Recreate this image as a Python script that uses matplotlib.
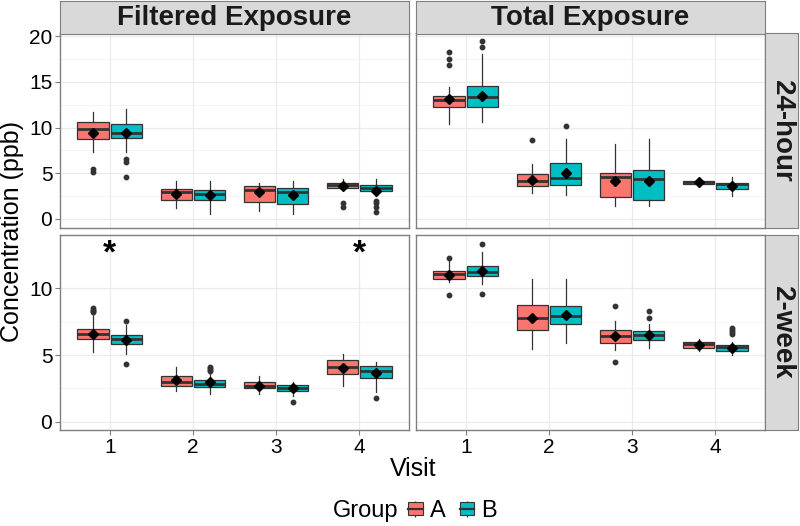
import numpy as np
import matplotlib.pyplot as plt
from matplotlib.patches import Patch
from matplotlib.lines import Line2D

plt.rcParams['font.family'] = ['Liberation Sans', 'DejaVu Sans']

# categories
visits = [1, 2, 3, 4]
groups = ['A', 'B']
exposures = ['Filtered Exposure', 'Total Exposure']
durations = ['24-hour', '2-week']
colors = {'A': '#F8766D', 'B': '#00BFC4'}

# box stats per panel, columns: A1, B1, A2, B2, A3, B3, A4, B4
# rows: whisker low, q1, median, q3, whisker high, mean
filt_24h = np.array([
    [7.3, 7.3, 1.2, 0.55, 0.9, 0.5, 3.2, 2.5],
    [8.75, 8.9, 2.1, 2.05, 1.9, 1.6, 3.35, 3.0],
    [9.86, 9.4, 2.9, 2.7, 3.2, 2.9, 3.75, 3.4],
    [10.6, 10.4, 3.3, 3.2, 3.6, 3.35, 3.9, 3.7],
    [11.7, 12.0, 4.2, 4.2, 3.9, 4.2, 4.4, 4.4],
    [9.4, 9.4, 2.7, 2.6, 2.9, 2.6, 3.6, 3.1],
])
filt_24h_out = [[5.5, 5.1], [6.6, 6.2, 4.6], [], [], [], [], [1.7, 1.3], [2.0, 1.7, 1.35, 0.8]]

total_24h = np.array([
    [10.4, 10.6, 2.8, 2.6, 1.45, 1.45, 3.7, 2.46],
    [12.3, 12.3, 3.6, 3.7, 2.35, 2.1, 3.8, 3.3],
    [13.05, 13.4, 4.2, 4.5, 4.55, 4.4, 4.0, 3.8],
    [13.5, 14.6, 4.9, 6.1, 5.0, 5.4, 4.1, 3.97],
    [14.4, 18.1, 6.0, 8.8, 8.2, 8.7, 4.25, 4.55],
    [13.1, 13.5, 4.3, 5.0, 4.2, 4.2, 4.0, 3.6],
])
total_24h_out = [[18.3, 17.5, 16.8], [19.5, 18.8], [8.6], [10.2], [], [], [], []]

filt_2wk = np.array([
    [5.2, 5.1, 2.3, 2.1, 2.1, 1.95, 2.7, 2.2],
    [6.2, 5.8, 2.65, 2.6, 2.5, 2.3, 3.55, 3.3],
    [6.6, 6.2, 2.95, 2.85, 2.7, 2.5, 4.1, 3.8],
    [6.95, 6.5, 3.45, 3.1, 2.95, 2.75, 4.6, 4.15],
    [8.1, 7.25, 4.1, 3.6, 3.45, 3.0, 5.1, 4.5],
    [6.6, 6.1, 3.1, 2.95, 2.7, 2.5, 4.05, 3.65],
])
filt_2wk_out = [[8.5, 8.4, 8.3, 8.2], [7.55, 4.3], [], [4.1, 4.0, 3.9, 3.8], [], [1.5], [], [1.8]]

total_2wk = np.array([
    [10.45, 10.3, 5.45, 5.9, 5.4, 5.5, 5.3, 5.0],
    [10.7, 10.9, 6.9, 7.35, 5.9, 6.1, 5.5, 5.3],
    [11.1, 11.2, 7.75, 7.95, 6.4, 6.5, 5.8, 5.6],
    [11.3, 11.7, 8.75, 8.7, 6.9, 6.8, 6.0, 5.75],
    [12.05, 12.7, 10.7, 10.7, 7.55, 7.3, 6.2, 6.0],
    [11.0, 11.3, 7.8, 8.0, 6.4, 6.5, 5.75, 5.55],
])
total_2wk_out = [[12.3, 9.5], [13.3, 9.6], [], [], [8.7, 4.5], [8.3, 7.8], [], [7.0, 6.9, 6.7, 6.6]]

# significance marks (filtered, 2-week)
star_visits = [1, 4]
star_y = 12.6

panels = {
    (0, 0): (filt_24h, filt_24h_out),
    (0, 1): (total_24h, total_24h_out),
    (1, 0): (filt_2wk, filt_2wk_out),
    (1, 1): (total_2wk, total_2wk_out),
}

W, H = 800, 526
fig = plt.figure(figsize=(8, 5.26), dpi=100)


def px_axes(x0, y0, x1, y1):
    return fig.add_axes([x0 / W, 1 - y1 / H, (x1 - x0) / W, (y1 - y0) / H])


cols = [(60, 409), (416, 765)]
rows = [(33.5, 228), (235, 430)]
ylims = [(-1.0, 20.3), (-0.62, 14.0)]
yticks = [[0, 5, 10, 15, 20], [0, 5, 10]]
border = '#7F7F7F'
dark = '#333333'

for (r, c), (st, outs) in panels.items():
    ax = px_axes(cols[c][0], rows[r][0], cols[c][1], rows[r][1])
    stats, pos, fcs = [], [], []
    for i in range(8):
        v = visits[i // 2]
        g = groups[i % 2]
        stats.append(dict(whislo=st[0, i], q1=st[1, i], med=st[2, i], q3=st[3, i],
                          whishi=st[4, i], mean=st[5, i], fliers=outs[i]))
        pos.append(v + (-0.2 if g == 'A' else 0.2))
        fcs.append(colors[g])
    bp = ax.bxp(stats, positions=pos, widths=0.38, patch_artist=True, showmeans=True,
                showcaps=False, manage_ticks=False,
                boxprops=dict(edgecolor=dark, linewidth=0.9),
                whiskerprops=dict(color=dark, linewidth=0.9),
                medianprops=dict(color=dark, linewidth=2.0),
                meanprops=dict(marker='D', markerfacecolor='black', markeredgecolor='black',
                               markersize=5.5),
                flierprops=dict(marker='o', markerfacecolor=dark, markeredgecolor=dark,
                                markersize=3.2))
    for patch, fc in zip(bp['boxes'], fcs):
        patch.set_facecolor(fc)
    for m in bp['means']:
        m.set_zorder(5)

    if (r, c) == (1, 0):
        for v in star_visits:
            ax.text(v, star_y, '*', ha='center', va='center', fontsize=24,
                    fontweight='bold', color='black')

    ax.set_xlim(0.4, 4.6)
    ax.set_ylim(*ylims[r])
    ax.set_xticks(visits)
    ax.set_yticks(yticks[r])
    ax.set_yticks(np.array(yticks[r][:-1]) + 2.5, minor=True)
    ax.set_axisbelow(True)
    ax.grid(True, which='major', color='#EBEBEB', linewidth=0.9)
    ax.grid(True, which='minor', axis='y', color='#F4F4F4', linewidth=0.6)
    for s in ax.spines.values():
        s.set_color(border)
        s.set_linewidth(1.0)
    ax.tick_params(which='minor', length=0)
    ax.tick_params(which='major', length=3.5, width=0.8, color=border,
                   labelsize=15, labelcolor='black', pad=2)
    if r == 0:
        ax.tick_params(axis='x', length=0, labelbottom=False)
    if c == 1:
        ax.tick_params(axis='y', length=0, labelleft=False)

# strips
for c, label in enumerate(exposures):
    sax = px_axes(cols[c][0], 1, cols[c][1], 33.5)
    sax.set_facecolor('#D9D9D9')
    sax.set_xticks([])
    sax.set_yticks([])
    for s in sax.spines.values():
        s.set_color(border)
    sax.text(0.5, 0.47, label, ha='center', va='center', fontsize=20,
             fontweight='bold', color='#1A1A1A', transform=sax.transAxes)

for r, label in enumerate(durations):
    sax = px_axes(765, rows[r][0], 798, rows[r][1])
    sax.set_facecolor('#D9D9D9')
    sax.set_xticks([])
    sax.set_yticks([])
    for s in sax.spines.values():
        s.set_color(border)
    sax.text(0.5, 0.5, label, ha='center', va='center', fontsize=20, rotation=-90,
             fontweight='bold', color='#1A1A1A', transform=sax.transAxes)

fig.text(12 / W, 1 - 232 / H, 'Concentration (ppb)', rotation=90, ha='center',
         va='center', fontsize=18)
fig.text(413 / W, 1 - 469 / H, 'Visit', ha='center', va='center', fontsize=18)

# legend
fig.text(333 / W, 1 - 511 / H, 'Group', ha='left', va='center', fontsize=17)
handles = []
for g in groups:
    handles.append((Line2D([], [], ls='none', marker='|', markersize=12, mew=0.9, color=dark),
                    Patch(facecolor=colors[g], edgecolor=dark, linewidth=0.8),
                    Line2D([], [], color=dark, linewidth=1.6)))
fig.legend(handles, groups, loc='center left', bbox_to_anchor=(408 / W, 1 - 511 / H),
           ncol=2, frameon=False, fontsize=17, handlelength=0.62, handleheight=0.5,
           handletextpad=0.3, columnspacing=0.6, borderpad=0, borderaxespad=0)

fig.savefig('out.png', dpi=100)
